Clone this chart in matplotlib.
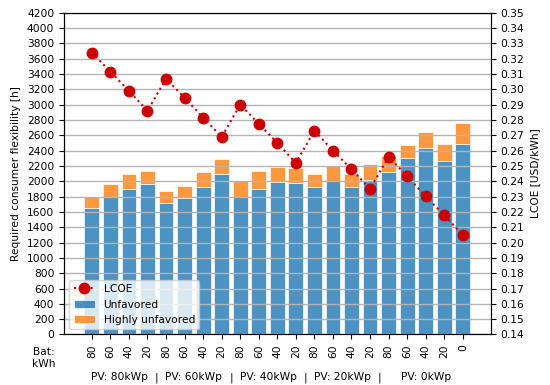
import numpy as np
import matplotlib
matplotlib.use("Agg")
import matplotlib.pyplot as plt
import matplotlib.transforms as mtransforms

bat_labels = ["80", "60", "40", "20", "80", "60", "40", "20", "80", "60", "40", "20",
              "80", "60", "40", "20", "80", "60", "40", "20", "0"]
pv_groups = ["PV: 80kWp", "PV: 60kWp", "PV: 40kWp", "PV: 20kWp", "PV: 0kWp"]
group_sizes = [4, 4, 4, 4, 5]

unfavored = [1650, 1800, 1900, 1960, 1710, 1780, 1930, 2100, 1800, 1900, 1990,
             1975, 1930, 2000, 1930, 2010, 2120, 2300, 2430, 2270, 2490]
total = [1800, 1960, 2100, 2130, 1870, 1940, 2120, 2290, 2000, 2130, 2190,
         2170, 2100, 2200, 2100, 2220, 2330, 2470, 2640, 2480, 2760]
highly_unfavored = [t - u for t, u in zip(total, unfavored)]
lcoe = [0.324, 0.3115, 0.299, 0.286, 0.307, 0.2945, 0.2815, 0.269, 0.290, 0.2775, 0.265,
        0.252, 0.273, 0.260, 0.2478, 0.235, 0.256, 0.2433, 0.2302, 0.2178, 0.205]

fs = 7.7
plt.rcParams['font.family'] = ['DejaVu Sans']
plt.rcParams['font.size'] = fs

fig = plt.figure(figsize=(5.5, 3.85), dpi=100)
ax = fig.add_axes([0.1164, 0.1312, 0.892 - 0.1164, 0.967 - 0.1312])
x = np.arange(len(bat_labels))

b1 = ax.bar(x, unfavored, width=0.8, color='#1f77b4', alpha=0.8,
            edgecolor='white', linewidth=0.6, label='Unfavored')
b2 = ax.bar(x, highly_unfavored, bottom=unfavored, width=0.8, color='#ff7f0e', alpha=0.8,
            edgecolor='white', linewidth=0.6, label='Highly unfavored')
ax.set_xlim(-1.5, 21.5)
ax.set_ylim(0, 4200)
ax.set_yticks(np.arange(0, 4201, 200))
ax.set_xticks(x)
ax.set_xticklabels(bat_labels, rotation=90, fontsize=fs)
ax.tick_params(axis='both', labelsize=fs)
ax.set_ylabel('Required consumer flexibility [h]', fontsize=fs)

ax2 = ax.twinx()
ln, = ax2.plot(x, lcoe, linestyle=':', color='#cc0000', marker='o', markersize=7.5,
               linewidth=1.5, label='LCOE')
ax2.set_ylim(0.14, 0.35)
ax2.set_yticks(np.round(np.arange(0.14, 0.3501, 0.01), 2))
ax2.set_yticklabels([f"{v:.2f}" for v in np.arange(0.14, 0.3501, 0.01)])
ax2.tick_params(axis='y', labelsize=fs)
ax2.set_ylabel('LCOE [USD/kWh]', fontsize=fs)
ax2.grid(True, axis='y', color='#b4b4b4', linewidth=1.0)
ax2.set_xlim(-1.5, 21.5)

ax2.legend([ln, b1, b2], ['LCOE', 'Unfavored', 'Highly unfavored'], loc='lower left', fontsize=fs)

# group labels under the ticks
trans = mtransforms.blended_transform_factory(ax.transData, fig.transFigure)
start = 0
for name, n in zip(pv_groups, group_sizes):
    c = start + (n - 1) / 2
    ax.text(c, (385 - 377.5) / 385, name, transform=trans, ha='center', va='center', fontsize=fs)
    if start > 0:
        ax.text(start - 0.5, (385 - 377.5) / 385, '|', transform=trans, ha='center', va='center', fontsize=fs)
    start += n

fig.text(44 / 550, (385 - 358) / 385, 'Bat:\nkWh', ha='center', va='center', fontsize=fs,
         linespacing=1.3)

fig.savefig('out.png', dpi=100)
